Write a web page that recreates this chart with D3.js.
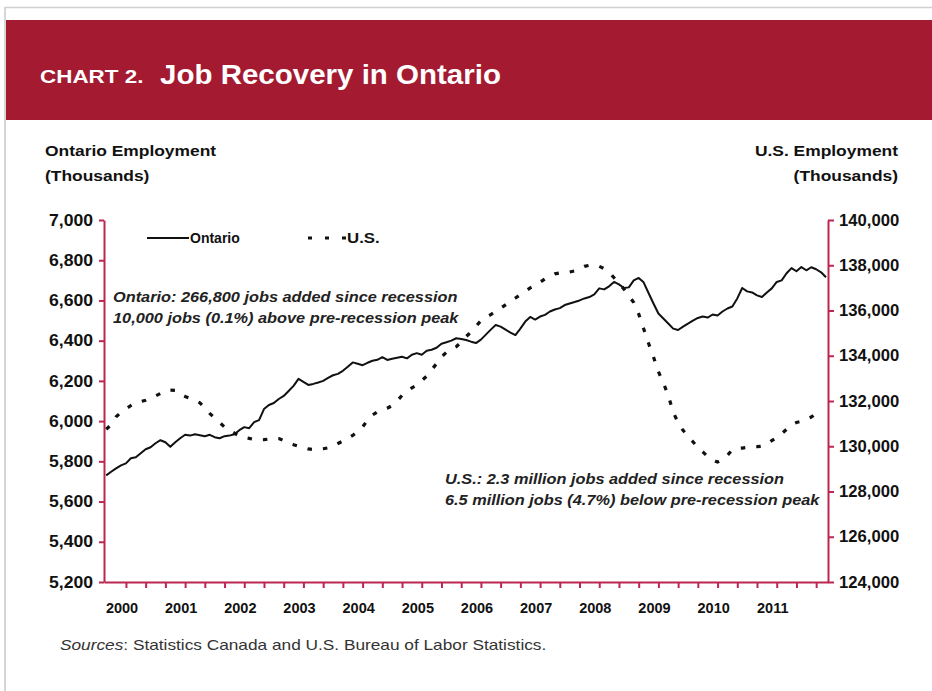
<!DOCTYPE html>
<html>
<head>
<meta charset="utf-8">
<script src="https://cdn.jsdelivr.net/npm/d3@7"></script>
<style>
  body { margin: 0; background: #fff; }
  text { font-family: "Liberation Sans", Arial, sans-serif; }
</style>
</head>
<body>
<svg id="svg" width="932" height="691"></svg>
<script>
// First month of both series: October 1999 (month index -3, Jan 2000 = 0)
const firstMonth = -3;

// Ontario employment, thousands, monthly Oct 1999 - Dec 2011
const ontario = [
  5730, 5748, 5765,                                                   // 1999
  5780, 5790, 5815, 5820, 5840, 5860, 5870, 5890, 5905, 5895, 5872, 5895, // 2000
  5915, 5932, 5928, 5935, 5930, 5925, 5932, 5920, 5915, 5925, 5928, 5935, // 2001
  5955, 5970, 5965, 5995, 6005, 6060, 6080, 6090, 6110, 6125, 6150, 6175, // 2002
  6210, 6195, 6180, 6185, 6192, 6200, 6215, 6228, 6235, 6250, 6270, 6292, // 2003
  6285, 6278, 6290, 6300, 6305, 6318, 6304, 6310, 6315, 6320, 6312, 6330, // 2004
  6338, 6330, 6350, 6355, 6365, 6385, 6392, 6400, 6412, 6408, 6403, 6395, // 2005
  6388, 6405, 6430, 6455, 6478, 6470, 6455, 6440, 6428, 6460, 6495, 6518, // 2006
  6505, 6520, 6528, 6545, 6555, 6562, 6577, 6585, 6592, 6600, 6610, 6617, // 2007
  6630, 6660, 6655, 6670, 6692, 6680, 6662, 6665, 6700, 6712, 6690, 6637, // 2008
  6585, 6535, 6510, 6485, 6460, 6453, 6470, 6485, 6500, 6513, 6520, 6515, // 2009
  6530, 6525, 6545, 6560, 6570, 6610, 6662, 6645, 6640, 6625, 6617, 6640, // 2010
  6660, 6692, 6700, 6735, 6761, 6745, 6766, 6750, 6765, 6755, 6740, 6715  // 2011
];

// U.S. employment, thousands, monthly Oct 1999 - Oct 2011
const usJobs = [
  130750, 130950, 131300,                                                                  // 1999
  131500, 131650, 131800, 131920, 131980, 132030, 132130, 132220, 132330, 132450, 132480, 132470, // 2000
  132300, 132200, 132120, 132030, 131920, 131700, 131450, 131250, 131050, 130850, 130700, 130580, // 2001
  130450, 130400, 130350, 130300, 130280, 130290, 130320, 130350, 130340, 130250, 130150, 130070, // 2002
  130000, 129950, 129880, 129860, 129870, 129890, 129930, 130000, 130120, 130230, 130350, 130480, // 2003
  130650, 130850, 131150, 131380, 131520, 131600, 131680, 131800, 132000, 132250, 132420, 132580, // 2004
  132700, 132900, 133100, 133380, 133650, 133950, 134150, 134300, 134400, 134600, 134850, 135050, // 2005
  135300, 135550, 135700, 135820, 135950, 136100, 136250, 136400, 136550, 136700, 136850, 137000, // 2006
  137100, 137250, 137400, 137520, 137620, 137660, 137680, 137700, 137750, 137850, 137950, 138000, // 2007
  138010, 137950, 137850, 137700, 137450, 137200, 136950, 136650, 136350, 135850, 135200, 134550, // 2008
  133950, 133300, 132800, 132250, 131500, 131050, 130700, 130450, 130200, 129950, 129750, 129550, // 2009
  129400, 129300, 129400, 129600, 129850, 129900, 129920, 129950, 129970, 129980, 130000, 130100, // 2010
  130250, 130380, 130550, 130750, 130950, 131050, 131100, 131200, 131290, 131450                  // 2011
];

const years = ["2000", "2001", "2002", "2003", "2004", "2005", "2006", "2007", "2008", "2009", "2010", "2011"];
const leftTicks = [5200, 5400, 5600, 5800, 6000, 6200, 6400, 6600, 6800, 7000];
const rightTicks = [124000, 126000, 128000, 130000, 132000, 134000, 136000, 138000, 140000];

const axisColor = "#bd2650";
const svg = d3.select("svg#svg");

// the source picture is a little wider than tall; widen text to match
var stretch = function(sel, k) {
  sel.each(function() {
    let w = this.getComputedTextLength();
    d3.select(this).attr("textLength", w * k).attr("lengthAdjust", "spacingAndGlyphs");
  });
}

// frame and header band
svg.append("line").attr("x1", 5).attr("x2", 932).attr("y1", 7.5).attr("y2", 7.5)
  .attr("stroke", "#d0d0d0").attr("stroke-width", 1.5);
svg.append("line").attr("x1", 5).attr("x2", 5).attr("y1", 7).attr("y2", 691)
  .attr("stroke", "#c8c8c8").attr("stroke-width", 1.5);
svg.append("rect").attr("x", 6).attr("y", 20).attr("width", 926).attr("height", 100)
  .attr("fill", "#a31a31");

svg.append("text").attr("x", 40).attr("y", 83)
  .attr("fill", "#fff").attr("font-weight", "bold").attr("font-size", 19)
  .text("CHART 2.")
  .call(stretch, 1.18);
svg.append("text").attr("x", 160).attr("y", 84)
  .attr("fill", "#fff").attr("font-weight", "bold").attr("font-size", 28.5)
  .text("Job Recovery in Ontario")
  .call(stretch, 1.035);

// scales
const x = d3.scaleLinear().domain([-3.45, 143.4]).range([104, 828]);
const yL = d3.scaleLinear().domain([5200, 7000]).range([582, 220]);
const yR = d3.scaleLinear().domain([124000, 140000]).range([582, 220]);

// axis titles
const titles = svg.append("g").attr("font-weight", "bold").attr("font-size", 15).attr("fill", "#111");
titles.append("text").attr("x", 45).attr("y", 156).text("Ontario Employment");
titles.append("text").attr("x", 45).attr("y", 181).text("(Thousands)");
titles.append("text").attr("x", 898).attr("y", 156).attr("text-anchor", "end").text("U.S. Employment");
titles.append("text").attr("x", 898).attr("y", 181).attr("text-anchor", "end").text("(Thousands)");
titles.selectAll("text").call(stretch, 1.16);

// axes
const fmt = d3.format(",");
const styleAxis = function(g) {
  g.selectAll(".domain").attr("stroke", axisColor).attr("stroke-width", 2);
  g.selectAll(".tick line").attr("stroke", axisColor).attr("stroke-width", 2);
  g.selectAll(".tick text").attr("fill", "#111").attr("font-weight", "bold")
    .attr("font-size", 16).attr("font-family", "Liberation Sans, Arial, sans-serif");
};

svg.append("g").attr("transform", "translate(104,0)")
  .call(d3.axisLeft(yL).tickValues(leftTicks).tickFormat(fmt).tickSize(5).tickSizeOuter(0).tickPadding(6))
  .call(styleAxis)
  .selectAll(".tick text").call(stretch, 1.1);

svg.append("g").attr("transform", "translate(828,0)")
  .call(d3.axisRight(yR).tickValues(rightTicks).tickFormat(fmt).tickSize(6).tickSizeOuter(0).tickPadding(5))
  .call(styleAxis)
  .selectAll(".tick text").call(stretch, 1.04);

svg.append("g").attr("transform", "translate(0,582)")
  .call(d3.axisBottom(x).tickValues(d3.range(1, 142, 4)).tickFormat("").tickSize(6).tickSizeOuter(0))
  .call(styleAxis);

svg.append("g").selectAll("text.year")
  .data(years)
  .enter()
  .append("text")
  .attr("class", "year")
  .attr("x", (d, i) => x(i * 12) + 1)
  .attr("y", 613)
  .attr("text-anchor", "middle")
  .attr("font-weight", "bold")
  .attr("font-size", 14.5)
  .attr("fill", "#111")
  .text(d => d);

// lines
const lineL = d3.line().x((d, i) => x(firstMonth + i)).y(d => yL(d));
const lineR = d3.line().x((d, i) => x(firstMonth + i)).y(d => yR(d));

svg.append("path").datum(usJobs)
  .attr("d", lineR)
  .attr("fill", "none")
  .attr("stroke", "#111")
  .attr("stroke-width", 3.2)
  .attr("stroke-dasharray", "4.5,11");

svg.append("path").datum(ontario)
  .attr("d", lineL)
  .attr("fill", "none")
  .attr("stroke", "#111")
  .attr("stroke-width", 2)
  .attr("stroke-linejoin", "round");

// legend
const legend = svg.append("g").attr("font-weight", "bold").attr("font-size", 14).attr("fill", "#111");
legend.append("line").attr("x1", 147).attr("x2", 189).attr("y1", 238).attr("y2", 238)
  .attr("stroke", "#111").attr("stroke-width", 2);
legend.append("text").attr("x", 190).attr("y", 243).text("Ontario");
legend.append("line").attr("x1", 308).attr("x2", 348).attr("y1", 238).attr("y2", 238)
  .attr("stroke", "#111").attr("stroke-width", 3.2).attr("stroke-dasharray", "4,13");
legend.append("text").attr("x", 347).attr("y", 243).text("U.S.").call(stretch, 1.2);

// annotations
const notes = svg.append("g").attr("font-weight", "bold").attr("font-style", "italic")
  .attr("font-size", 14).attr("fill", "#222");
notes.append("text").attr("x", 113).attr("y", 302).text("Ontario: 266,800 jobs added since recession");
notes.append("text").attr("x", 113).attr("y", 323).text("10,000 jobs (0.1%) above pre-recession peak");
notes.append("text").attr("x", 445).attr("y", 484).text("U.S.: 2.3 million jobs added since recession");
notes.append("text").attr("x", 445).attr("y", 505).text("6.5 million jobs (4.7%) below pre-recession peak");
notes.selectAll("text").call(stretch, 1.165);

// sources
const src = svg.append("text").attr("x", 60).attr("y", 650).attr("font-size", 14.5).attr("fill", "#333");
src.append("tspan").attr("font-style", "italic").text("Sources");
src.append("tspan").text(": Statistics Canada and U.S. Bureau of Labor Statistics.");
src.call(stretch, 1.19);
</script>
</body>
</html>
